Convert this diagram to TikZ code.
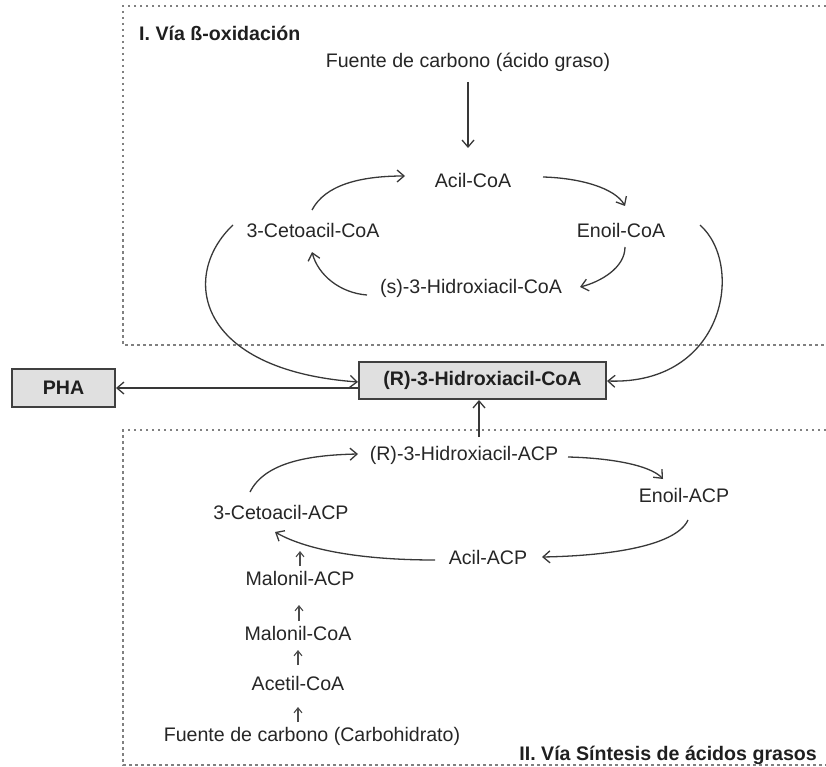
\documentclass[tikz,border=0pt]{standalone}
\usepackage{fontspec}
\setmainfont{Liberation Sans}
\usetikzlibrary{arrows.meta}
\begin{document}
\begin{tikzpicture}[x=1pt,y=-1pt,
  lbl/.style={font=\fontsize{19.6}{22}\selectfont, text=black!85, inner sep=0pt},
  ttl/.style={font=\bfseries\fontsize{19.6}{22}\selectfont, text=black!88, inner sep=0pt},
  boxed/.style={draw=black!75, line width=2pt, fill=black!12, text=black!88,
    font=\bfseries\fontsize{19.6}{22}\selectfont, inner sep=0pt, minimum height=37pt},
  arr/.style={draw=black!78, line width=1.3pt, -{Straight Barb[length=7pt,width=12pt]}},
  sarr/.style={draw=black!70, line width=1.1pt, -{Straight Barb[length=5pt,width=8pt]}},
  region/.style={draw=black!50, line width=2pt, dash pattern=on 2.5pt off 3.5pt}
]
\useasboundingbox (0,0) rectangle (826,767);

% the two pathway regions (open on the right)
\draw[region] (826,6) -- (123,6) -- (123,345) -- (826,345);
\draw[region] (826,430) -- (123,430) -- (123,765) -- (826,765);

% region titles
\node[ttl, anchor=west] (titleI) at (139,33) {I. Vía ß-oxidación};
\node[ttl, anchor=east] (titleII) at (817,755) {II. Vía Síntesis de ácidos grasos};

% beta-oxidation cycle
\node[lbl] (fa)    at (468,62)  {Fuente de carbono (ácido graso)};
\node[lbl] (acil)  at (473,180) {Acil-CoA};
\node[lbl] (enoil) at (621,230) {Enoil-CoA};
\node[lbl] (ceto)  at (313,230) {3-Cetoacil-CoA};
\node[lbl] (shid)  at (471,288) {(s)-3-Hidroxiacil-CoA};

% central intermediate and product
\node[boxed, minimum width=247pt] (r3h) at (482.5,380.5) {(R)-3-Hidroxiacil-CoA};
\node[boxed, minimum width=103pt, minimum height=38pt] (pha) at (63.5,388) {PHA};

% fatty acid synthesis cycle
\node[lbl] (hacp) at (464,455) {(R)-3-Hidroxiacil-ACP};
\node[lbl] (eacp) at (684,495) {Enoil-ACP};
\node[lbl] (cacp) at (281,512) {3-Cetoacil-ACP};
\node[lbl] (aacp) at (488,557) {Acil-ACP};
\node[lbl] (macp) at (300,578) {Malonil-ACP};
\node[lbl] (mcoa) at (298,633) {Malonil-CoA};
\node[lbl] (acoa) at (298,683) {Acetil-CoA};
\node[lbl] (fc)   at (312,736) {Fuente de carbono (Carbohidrato)};

% start and end points of the connectors, kept clear of the labels
\coordinate (faout) at (468,82);   \coordinate (acin)  at (468,148);
\coordinate (c1s) at (312,210);    \coordinate (c1e) at (405,176);
\coordinate (c2s) at (543,177);    \coordinate (c2e) at (625,206);
\coordinate (c3s) at (625,247);    \coordinate (c3e) at (580,287);
\coordinate (c4s) at (367,295);    \coordinate (c4e) at (312,252);
\coordinate (c5s) at (233,225);
\coordinate (c6s) at (700,225);
\coordinate (d1s) at (250,492);    \coordinate (d1e) at (358,454);
\coordinate (d2s) at (568,457);    \coordinate (d2e) at (663,479);
\coordinate (d3s) at (688,520);    \coordinate (d3e) at (542,557);
\coordinate (d4s) at (435,560);    \coordinate (d4e) at (275,532);
\coordinate (upstart) at (479,437);

% connectors: beta-oxidation
\draw[arr] (faout) -- (acin);
\draw[arr] (c1s) .. controls (325,185) and (360,176) .. (c1e);
\draw[arr] (c2s) .. controls (580,178) and (615,188) .. (c2e);
\draw[arr] (c3s) .. controls (625,268) and (600,282) .. (c3e);
\draw[arr] (c4s) .. controls (340,293) and (318,275) .. (c4e);
\draw[arr] (c5s) .. controls (180,275) and (195,370) .. (r3h.west |- 0,382);
\draw[arr] (c6s) .. controls (745,265) and (725,385) .. (r3h.east |- 0,381);

% connectors: central part
\draw[arr] (r3h.west |- pha.east) -- (pha.east);
\draw[arr] (upstart) -- (upstart |- r3h.south);

% connectors: fatty acid synthesis
\draw[arr] (d1s) .. controls (265,462) and (310,455) .. (d1e);
\draw[arr] (d2s) .. controls (610,458) and (650,465) .. (d2e);
\draw[arr] (d3s) .. controls (675,548) and (600,556) .. (d3e);
\draw[arr] (d4s) .. controls (370,560) and (310,552) .. (d4e);

% short steps feeding the synthesis cycle
\coordinate (s1s) at (300,566); \coordinate (s1e) at (300,551);
\coordinate (s2s) at (299,621); \coordinate (s2e) at (299,605);
\coordinate (s3s) at (298,665); \coordinate (s3e) at (298,650);
\coordinate (s4s) at (298,722); \coordinate (s4e) at (298,707);
\draw[sarr] (s1s) -- (s1e);
\draw[sarr] (s2s) -- (s2e);
\draw[sarr] (s3s) -- (s3e);
\draw[sarr] (s4s) -- (s4e);
\end{tikzpicture}
\end{document}
